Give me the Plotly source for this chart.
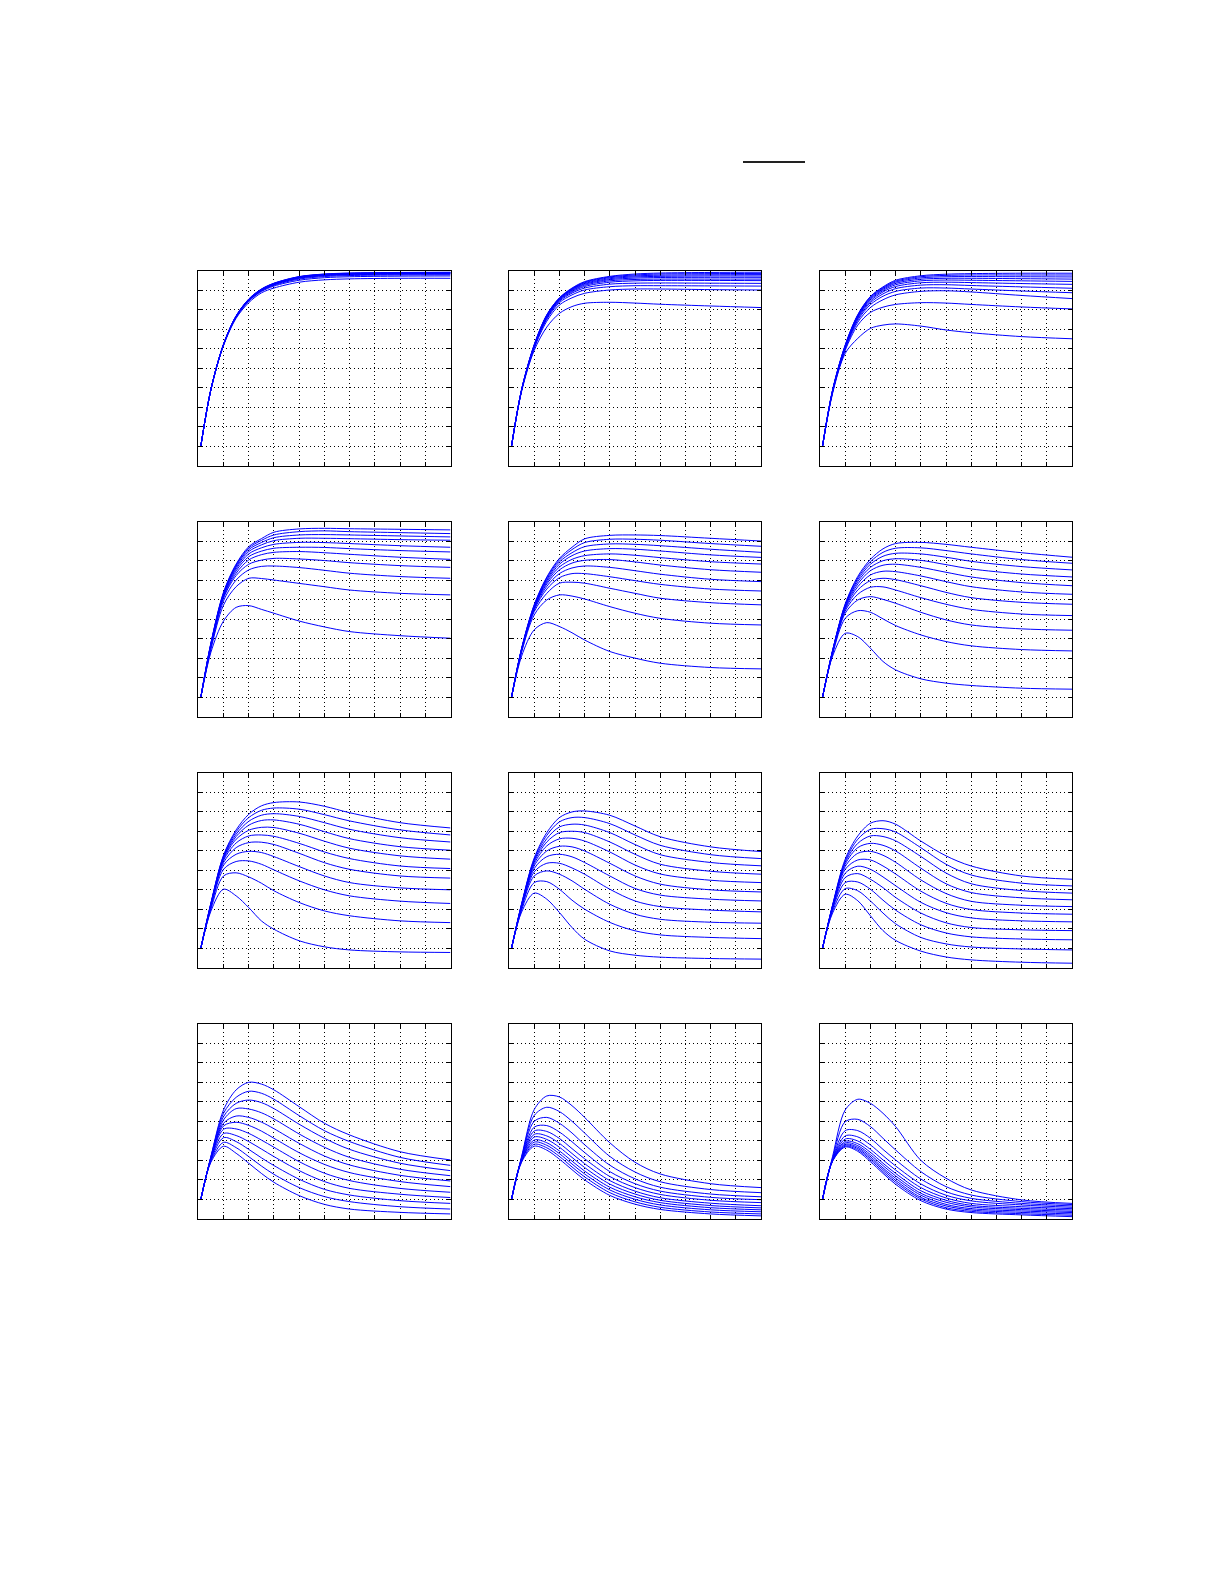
import plotly.graph_objects as go
from plotly.subplots import make_subplots

# sample times (x) shared by all curves
T = [0.1, 0.5, 1, 1.5, 2, 2.5, 3, 4, 5, 6, 8, 10]

# Row 1
P11 = [
    [1, 3.9, 6.15, 7.55, 8.35, 8.85, 9.1, 9.4, 9.52, 9.57, 9.6, 9.6],
    [1, 3.9, 6.17, 7.6, 8.42, 8.92, 9.2, 9.5, 9.63, 9.68, 9.71, 9.72],
    [1, 3.9, 6.18, 7.62, 8.45, 8.95, 9.24, 9.56, 9.69, 9.74, 9.77, 9.78],
    [1, 3.9, 6.19, 7.63, 8.47, 8.97, 9.27, 9.6, 9.73, 9.78, 9.81, 9.82],
    [1, 3.9, 6.2, 7.64, 8.48, 8.98, 9.28, 9.62, 9.75, 9.8, 9.83, 9.84],
    [1, 3.9, 6.2, 7.65, 8.5, 9.0, 9.3, 9.64, 9.77, 9.82, 9.85, 9.86],
    [1, 3.9, 6.2, 7.65, 8.5, 9.01, 9.31, 9.65, 9.78, 9.83, 9.86, 9.87],
    [1, 3.9, 6.21, 7.66, 8.51, 9.02, 9.32, 9.66, 9.79, 9.84, 9.87, 9.88],
    [1, 3.9, 6.21, 7.66, 8.52, 9.03, 9.33, 9.67, 9.8, 9.85, 9.88, 9.89],
    [1, 3.9, 6.22, 7.67, 8.53, 9.04, 9.34, 9.68, 9.81, 9.86, 9.89, 9.9],
    [1, 3.9, 6.22, 7.67, 8.54, 9.05, 9.35, 9.69, 9.82, 9.87, 9.9, 9.91],
]
P12 = [
    [1, 3.8, 5.9, 7.1, 7.8, 8.15, 8.32, 8.37, 8.33, 8.27, 8.18, 8.1],
    [1, 3.85, 6.0, 7.4, 8.23, 8.6, 8.83, 9.0, 9.05, 9.05, 9.02, 9.0],
    [1, 3.85, 6.05, 7.5, 8.35, 8.75, 9.0, 9.17, 9.22, 9.22, 9.21, 9.2],
    [1, 3.85, 6.08, 7.55, 8.42, 8.84, 9.1, 9.3, 9.35, 9.36, 9.35, 9.34],
    [1, 3.87, 6.1, 7.6, 8.47, 8.9, 9.18, 9.4, 9.47, 9.49, 9.49, 9.48],
    [1, 3.87, 6.12, 7.63, 8.5, 8.95, 9.24, 9.47, 9.54, 9.56, 9.56, 9.56],
    [1, 3.88, 6.14, 7.66, 8.53, 8.99, 9.29, 9.53, 9.61, 9.64, 9.65, 9.65],
    [1, 3.88, 6.15, 7.68, 8.55, 9.02, 9.33, 9.58, 9.67, 9.7, 9.72, 9.72],
    [1, 3.89, 6.17, 7.7, 8.57, 9.05, 9.37, 9.63, 9.72, 9.76, 9.78, 9.79],
    [1, 3.89, 6.18, 7.72, 8.59, 9.07, 9.4, 9.67, 9.77, 9.82, 9.84, 9.85],
    [1, 3.9, 6.2, 7.73, 8.6, 9.1, 9.43, 9.7, 9.82, 9.87, 9.9, 9.91],
]
P13 = [
    [1, 3.7, 5.75, 6.52, 7.03, 7.2, 7.26, 7.15, 6.95, 6.81, 6.61, 6.5],
    [1, 3.75, 5.9, 7.2, 7.85, 8.12, 8.26, 8.35, 8.33, 8.26, 8.13, 8.03],
    [1, 3.78, 5.97, 7.35, 8.1, 8.5, 8.75, 8.93, 8.96, 8.9, 8.72, 8.56],
    [1, 3.8, 6.02, 7.45, 8.25, 8.68, 8.93, 9.1, 9.1, 9.05, 8.95, 8.86],
    [1, 3.82, 6.05, 7.52, 8.35, 8.8, 9.07, 9.25, 9.27, 9.23, 9.16, 9.09],
    [1, 3.83, 6.08, 7.58, 8.43, 8.9, 9.18, 9.37, 9.4, 9.38, 9.33, 9.29],
    [1, 3.84, 6.1, 7.62, 8.5, 8.97, 9.27, 9.47, 9.51, 9.5, 9.47, 9.44],
    [1, 3.85, 6.12, 7.66, 8.55, 9.03, 9.34, 9.55, 9.6, 9.6, 9.58, 9.56],
    [1, 3.86, 6.14, 7.69, 8.6, 9.08, 9.4, 9.62, 9.68, 9.69, 9.68, 9.67],
    [1, 3.87, 6.16, 7.72, 8.64, 9.12, 9.45, 9.68, 9.75, 9.77, 9.77, 9.77],
    [1, 3.88, 6.18, 7.74, 8.67, 9.16, 9.5, 9.73, 9.81, 9.84, 9.86, 9.86],
]
# Row 2
P21 = [
    [1, 3.3, 4.9, 5.6, 5.69, 5.5, 5.3, 4.9, 4.6, 4.36, 4.15, 4.02],
    [1, 3.45, 5.72, 6.66, 7.09, 7.08, 7.0, 6.83, 6.66, 6.49, 6.32, 6.24],
    [1, 3.55, 5.93, 7.0, 7.52, 7.7, 7.72, 7.64, 7.5, 7.35, 7.18, 7.09],
    [1, 3.6, 6.07, 7.23, 7.81, 8.02, 8.11, 8.08, 8.0, 7.89, 7.74, 7.65],
    [1, 3.65, 6.14, 7.35, 8.03, 8.3, 8.42, 8.46, 8.4, 8.32, 8.17, 8.06],
    [1, 3.68, 6.19, 7.47, 8.2, 8.48, 8.63, 8.68, 8.67, 8.61, 8.51, 8.44],
    [1, 3.7, 6.24, 7.57, 8.34, 8.65, 8.83, 8.93, 8.92, 8.87, 8.76, 8.68],
    [1, 3.72, 6.27, 7.65, 8.46, 8.8, 9.02, 9.14, 9.14, 9.12, 9.07, 9.04],
    [1, 3.74, 6.31, 7.72, 8.56, 8.92, 9.17, 9.31, 9.33, 9.31, 9.26, 9.21],
    [1, 3.76, 6.34, 7.77, 8.64, 9.03, 9.31, 9.48, 9.52, 9.48, 9.43, 9.38],
    [1, 3.78, 6.38, 7.82, 8.71, 9.12, 9.45, 9.62, 9.65, 9.63, 9.6, 9.57],
]
P22 = [
    [1, 3.1, 4.45, 4.82, 4.62, 4.3, 3.93, 3.34, 3.0, 2.74, 2.52, 2.45],
    [1, 3.3, 5.21, 5.98, 6.24, 6.18, 6.03, 5.64, 5.3, 5.04, 4.79, 4.7],
    [1, 3.35, 5.38, 6.32, 6.84, 6.89, 6.84, 6.58, 6.32, 6.07, 5.84, 5.73],
    [1, 3.4, 5.47, 6.54, 7.12, 7.33, 7.33, 7.17, 6.97, 6.78, 6.54, 6.44],
    [1, 3.42, 5.52, 6.68, 7.33, 7.62, 7.72, 7.65, 7.48, 7.3, 7.04, 6.92],
    [1, 3.44, 5.57, 6.8, 7.52, 7.87, 8.01, 8.05, 7.93, 7.77, 7.53, 7.4],
    [1, 3.46, 5.6, 6.89, 7.67, 8.06, 8.25, 8.34, 8.27, 8.15, 7.94, 7.82],
    [1, 3.47, 5.64, 6.97, 7.81, 8.25, 8.49, 8.61, 8.58, 8.49, 8.29, 8.16],
    [1, 3.48, 5.67, 7.04, 7.93, 8.4, 8.71, 8.85, 8.83, 8.76, 8.58, 8.42],
    [1, 3.49, 5.71, 7.11, 8.03, 8.56, 8.92, 9.09, 9.09, 9.04, 8.87, 8.73],
    [1, 3.5, 5.74, 7.16, 8.11, 8.68, 9.11, 9.29, 9.31, 9.28, 9.14, 9.0],
]
P23 = [
    [1, 3.1, 4.27, 4.1, 3.51, 2.83, 2.4, 1.94, 1.72, 1.6, 1.46, 1.41],
    [1, 3.2, 5.04, 5.43, 5.35, 5.01, 4.67, 4.19, 3.85, 3.63, 3.44, 3.37],
    [1, 3.25, 5.3, 5.98, 6.15, 6.01, 5.81, 5.35, 4.96, 4.7, 4.5, 4.43],
    [1, 3.3, 5.42, 6.27, 6.63, 6.65, 6.49, 6.1, 5.76, 5.5, 5.26, 5.18],
    [1, 3.32, 5.5, 6.49, 6.97, 7.09, 7.02, 6.71, 6.37, 6.1, 5.86, 5.76],
    [1, 3.34, 5.57, 6.66, 7.26, 7.45, 7.43, 7.21, 6.92, 6.66, 6.39, 6.27],
    [1, 3.36, 5.62, 6.8, 7.48, 7.76, 7.81, 7.65, 7.4, 7.16, 6.87, 6.71],
    [1, 3.37, 5.68, 6.92, 7.65, 7.99, 8.09, 8.01, 7.79, 7.57, 7.31, 7.16],
    [1, 3.38, 5.71, 7.02, 7.81, 8.22, 8.37, 8.34, 8.17, 7.96, 7.69, 7.52],
    [1, 3.39, 5.74, 7.11, 7.94, 8.42, 8.63, 8.65, 8.51, 8.34, 8.05, 7.86],
    [1, 3.4, 5.78, 7.19, 8.06, 8.6, 8.87, 8.93, 8.83, 8.68, 8.4, 8.17],
]
# Row 3
P31 = [
    [1, 2.9, 4.02, 3.68, 3.08, 2.4, 1.97, 1.38, 1.07, 0.91, 0.81, 0.78],
    [1, 3.0, 4.7, 4.86, 4.65, 4.33, 3.94, 3.34, 2.91, 2.66, 2.4, 2.31],
    [1, 3.1, 5.04, 5.44, 5.47, 5.3, 5.01, 4.45, 3.99, 3.68, 3.41, 3.29],
    [1, 3.15, 5.25, 5.81, 5.96, 5.9, 5.69, 5.18, 4.7, 4.36, 4.09, 3.99],
    [1, 3.2, 5.38, 6.15, 6.41, 6.43, 6.31, 5.86, 5.38, 5.04, 4.7, 4.59],
    [1, 3.22, 5.49, 6.39, 6.75, 6.8, 6.73, 6.37, 5.93, 5.59, 5.21, 5.08],
    [1, 3.24, 5.56, 6.58, 7.04, 7.19, 7.18, 6.89, 6.48, 6.12, 5.73, 5.56],
    [1, 3.26, 5.62, 6.72, 7.3, 7.54, 7.57, 7.35, 6.97, 6.61, 6.2, 6.02],
    [1, 3.28, 5.68, 6.84, 7.5, 7.81, 7.89, 7.75, 7.43, 7.09, 6.66, 6.44],
    [1, 3.3, 5.73, 6.96, 7.69, 8.06, 8.18, 8.12, 7.84, 7.52, 7.06, 6.8],
    [1, 3.32, 5.76, 7.06, 7.86, 8.29, 8.46, 8.49, 8.27, 7.94, 7.43, 7.16],
]
P32 = [
    [1, 2.85, 3.82, 3.51, 2.83, 2.06, 1.46, 0.86, 0.64, 0.54, 0.47, 0.44],
    [1, 2.95, 4.36, 4.41, 4.02, 3.46, 3.0, 2.32, 1.89, 1.68, 1.55, 1.49],
    [1, 3.05, 4.7, 4.96, 4.79, 4.45, 4.02, 3.25, 2.74, 2.48, 2.33, 2.28],
    [1, 3.1, 4.91, 5.35, 5.35, 5.11, 4.79, 4.02, 3.42, 3.13, 2.95, 2.86],
    [1, 3.15, 5.08, 5.69, 5.81, 5.68, 5.39, 4.7, 4.06, 3.72, 3.51, 3.42],
    [1, 3.18, 5.22, 5.98, 6.22, 6.19, 5.98, 5.35, 4.7, 4.28, 3.99, 3.88],
    [1, 3.2, 5.32, 6.24, 6.6, 6.63, 6.49, 5.93, 5.26, 4.8, 4.48, 4.36],
    [1, 3.22, 5.42, 6.44, 6.92, 6.99, 6.92, 6.44, 5.81, 5.3, 4.94, 4.79],
    [1, 3.24, 5.49, 6.61, 7.21, 7.35, 7.31, 6.92, 6.31, 5.79, 5.39, 5.22],
    [1, 3.26, 5.56, 6.78, 7.47, 7.69, 7.69, 7.38, 6.8, 6.27, 5.79, 5.59],
    [1, 3.28, 5.62, 6.92, 7.69, 7.98, 8.03, 7.81, 7.26, 6.71, 6.19, 5.95],
]
P33 = [
    [1, 2.8, 3.76, 3.43, 2.66, 1.9, 1.4, 0.85, 0.55, 0.4, 0.28, 0.23],
    [1, 2.9, 4.05, 3.94, 3.42, 2.8, 2.25, 1.55, 1.22, 1.06, 0.96, 0.91],
    [1, 3.0, 4.36, 4.39, 4.02, 3.46, 2.95, 2.2, 1.78, 1.58, 1.47, 1.43],
    [1, 3.05, 4.62, 4.82, 4.53, 4.1, 3.6, 2.8, 2.3, 2.06, 1.94, 1.9],
    [1, 3.1, 4.84, 5.2, 5.04, 4.65, 4.2, 3.35, 2.82, 2.55, 2.4, 2.35],
    [1, 3.12, 5.04, 5.52, 5.52, 5.21, 4.8, 3.92, 3.3, 2.98, 2.8, 2.74],
    [1, 3.14, 5.18, 5.86, 5.96, 5.76, 5.4, 4.5, 3.8, 3.4, 3.2, 3.13],
    [1, 3.16, 5.3, 6.15, 6.37, 6.27, 5.98, 5.1, 4.3, 3.85, 3.58, 3.48],
    [1, 3.18, 5.39, 6.37, 6.75, 6.72, 6.5, 5.7, 4.85, 4.3, 3.95, 3.82],
    [1, 3.2, 5.47, 6.58, 7.09, 7.12, 6.95, 6.15, 5.3, 4.75, 4.33, 4.19],
    [1, 3.22, 5.56, 6.75, 7.4, 7.53, 7.35, 6.49, 5.73, 5.21, 4.7, 4.53],
]
# Row 4
P41 = [
    [1, 2.9, 3.72, 3.36, 2.85, 2.33, 1.87, 1.19, 0.74, 0.5, 0.33, 0.25],
    [1, 2.95, 3.92, 3.65, 3.19, 2.71, 2.28, 1.6, 1.14, 0.88, 0.62, 0.5],
    [1, 3.0, 4.16, 3.96, 3.56, 3.13, 2.73, 2.03, 1.51, 1.22, 0.93, 0.79],
    [1, 3.05, 4.37, 4.27, 3.96, 3.58, 3.19, 2.47, 1.91, 1.56, 1.26, 1.09],
    [1, 3.08, 4.59, 4.61, 4.38, 4.04, 3.67, 2.93, 2.34, 1.96, 1.56, 1.36],
    [1, 3.1, 4.76, 4.95, 4.79, 4.5, 4.13, 3.39, 2.79, 2.37, 1.91, 1.65],
    [1, 3.12, 4.9, 5.27, 5.2, 4.96, 4.62, 3.87, 3.22, 2.76, 2.23, 1.94],
    [1, 3.14, 5.07, 5.65, 5.63, 5.44, 5.12, 4.35, 3.67, 3.15, 2.54, 2.21],
    [1, 3.16, 5.24, 5.92, 6.09, 5.96, 5.65, 4.85, 4.13, 3.56, 2.85, 2.47],
    [1, 3.18, 5.41, 6.23, 6.54, 6.44, 6.13, 5.29, 4.52, 3.96, 3.15, 2.74],
    [1, 3.2, 5.58, 6.61, 7.0, 6.91, 6.61, 5.75, 4.9, 4.3, 3.44, 3.02],
]
P42 = [
    [1, 2.9, 3.72, 3.52, 3.06, 2.52, 2.0, 1.2, 0.75, 0.48, 0.25, 0.15],
    [1, 2.95, 3.82, 3.64, 3.2, 2.66, 2.15, 1.34, 0.87, 0.59, 0.35, 0.25],
    [1, 3.0, 3.93, 3.77, 3.34, 2.81, 2.3, 1.48, 1.0, 0.71, 0.46, 0.36],
    [1, 3.02, 4.04, 3.9, 3.48, 2.96, 2.45, 1.62, 1.13, 0.83, 0.57, 0.46],
    [1, 3.04, 4.19, 4.07, 3.67, 3.15, 2.63, 1.78, 1.27, 0.95, 0.68, 0.56],
    [1, 3.06, 4.33, 4.25, 3.87, 3.35, 2.83, 1.96, 1.42, 1.08, 0.8, 0.67],
    [1, 3.08, 4.5, 4.48, 4.12, 3.6, 3.08, 2.17, 1.6, 1.25, 0.95, 0.83],
    [1, 3.1, 4.7, 4.78, 4.45, 3.95, 3.4, 2.42, 1.8, 1.42, 1.1, 0.98],
    [1, 3.12, 5.0, 5.2, 4.9, 4.4, 3.8, 2.75, 2.05, 1.62, 1.27, 1.13],
    [1, 3.15, 5.3, 5.72, 5.5, 5.0, 4.4, 3.2, 2.4, 1.9, 1.5, 1.34],
    [1, 3.2, 5.6, 6.3, 6.25, 5.8, 5.2, 3.9, 2.9, 2.3, 1.8, 1.6],
]
P43 = [
    [1, 2.95, 3.68, 3.46, 2.93, 2.33, 1.77, 0.93, 0.5, 0.32, 0.2, 0.11],
    [1, 2.97, 3.72, 3.53, 3.02, 2.42, 1.87, 1.02, 0.57, 0.38, 0.26, 0.18],
    [1, 2.99, 3.77, 3.6, 3.1, 2.52, 1.97, 1.1, 0.66, 0.45, 0.33, 0.25],
    [1, 3.0, 3.82, 3.67, 3.19, 2.61, 2.08, 1.21, 0.74, 0.52, 0.4, 0.32],
    [1, 3.01, 3.89, 3.75, 3.29, 2.73, 2.2, 1.31, 0.85, 0.61, 0.47, 0.38],
    [1, 3.02, 3.97, 3.85, 3.41, 2.85, 2.33, 1.44, 0.95, 0.69, 0.54, 0.45],
    [1, 3.04, 4.09, 3.99, 3.56, 3.02, 2.5, 1.6, 1.07, 0.79, 0.62, 0.52],
    [1, 3.06, 4.25, 4.2, 3.79, 3.24, 2.71, 1.79, 1.21, 0.92, 0.71, 0.59],
    [1, 3.08, 4.52, 4.52, 4.13, 3.56, 3.02, 2.04, 1.39, 1.05, 0.79, 0.66],
    [1, 3.12, 4.98, 5.1, 4.73, 4.13, 3.53, 2.42, 1.65, 1.22, 0.88, 0.73],
    [1, 3.2, 5.58, 6.13, 5.92, 5.41, 4.73, 3.0, 2.08, 1.48, 0.97, 0.79],
]

PANELS = [[P11, P12, P13], [P21, P22, P23], [P31, P32, P33], [P41, P42, P43]]

W, H = 1225, 1585
COL_PX = [(198.3, 450.5), (509.0, 761.0), (820.0, 1072.0)]
ROW_PX = [(270.5, 465.5), (521.5, 716.7), (772.5, 967.7), (1023.8, 1218.8)]

fig = make_subplots(rows=4, cols=3)

for r in range(4):
    for c in range(3):
        for ys in PANELS[r][c]:
            fig.add_trace(
                go.Scatter(x=T, y=ys, mode="lines",
                           line=dict(color="#0000ff", width=1, shape="spline", smoothing=0.9),
                           showlegend=False, hoverinfo="skip"),
                row=r + 1, col=c + 1)
        idx = r * 3 + c + 1
        xa = "xaxis" if idx == 1 else f"xaxis{idx}"
        ya = "yaxis" if idx == 1 else f"yaxis{idx}"
        x0, x1 = COL_PX[c]
        y0, y1 = ROW_PX[r]
        common = dict(showgrid=True, gridcolor="black", griddash="1px,3px", gridwidth=1,
                      showline=True, linecolor="black", linewidth=1, mirror="ticks",
                      ticks="inside", ticklen=4, tickcolor="black",
                      showticklabels=False, zeroline=False, dtick=1, tick0=0,
                      range=[0, 10], fixedrange=True)
        fig.layout[xa].update(domain=[x0 / W, x1 / W], **common)
        fig.layout[ya].update(domain=[1 - y1 / H, 1 - y0 / H], **common)

# short black bar above the panels
fig.add_shape(type="line", xref="paper", yref="paper",
              x0=743 / W, x1=805 / W, y0=1 - 162 / H, y1=1 - 162 / H,
              line=dict(color="#222222", width=2))

fig.update_layout(width=W, height=H, margin=dict(l=0, r=0, t=0, b=0),
                  paper_bgcolor="white", plot_bgcolor="white", showlegend=False)

fig.write_html("out.html", config={"displayModeBar": False},
               post_script="document.body.style.margin='0';document.body.style.padding='0';document.body.style.overflow='hidden';")
